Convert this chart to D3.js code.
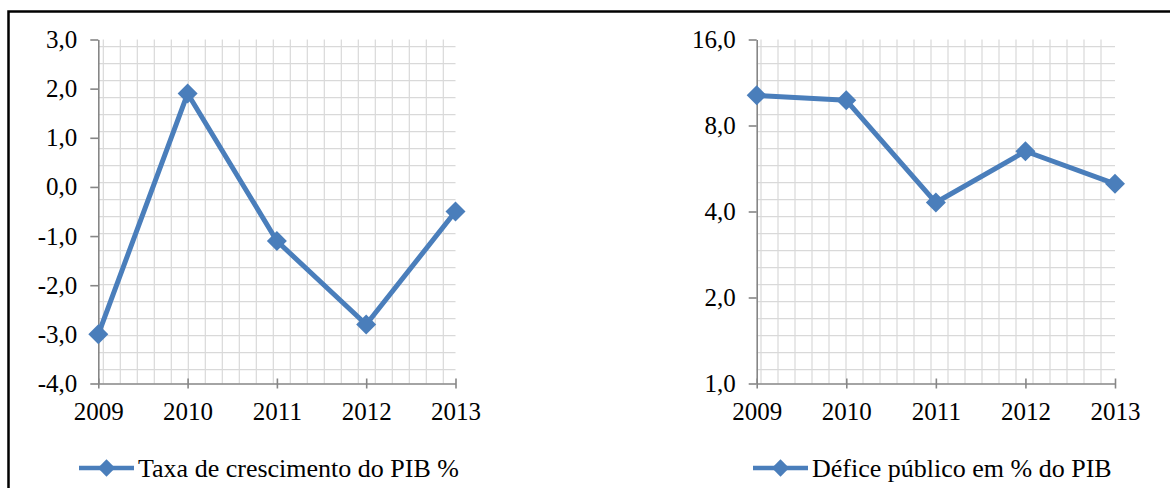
<!DOCTYPE html>
<html><head><meta charset="utf-8">
<script src="https://cdn.jsdelivr.net/npm/d3@7"></script>
<style>
body{margin:0;background:#fff}
svg{display:block}
text{font-family:"Liberation Serif","Times New Roman",serif;fill:#000}
</style>
</head><body>
<svg id="chart" width="1170" height="488"></svg>
<script>
// Annual series, 2009-2013
const years = ["2009", "2010", "2011", "2012", "2013"];
const growth = [-3.0, 1.9, -1.1, -2.8, -0.5];      // Taxa de crescimento do PIB %
const deficit = [10.2, 9.8, 4.3, 6.5, 5.0];        // Défice público em % do PIB
const growthTicks = [-4, -3, -2, -1, 0, 1, 2, 3];
const deficitTicks = [1, 2, 4, 8, 16];
const growthLabel = "Taxa de crescimento do PIB %";
const deficitLabel = "Défice público em % do PIB";

const BLUE = "#4a7ebb";
const AXIS = "#868686";
const GRID = "#d9d9d9";

const pt = d3.formatLocale({decimal: ",", thousands: ".", grouping: [3], currency: ["", " €"], minus: "-"});
const fmt = pt.format(".1f");

const svg = d3.select("#chart");

// outer frame (left and top edges)
svg.append("path")
  .attr("d", "M8.5,488V11.5H1170")
  .attr("fill", "none").attr("stroke", "#000").attr("stroke-width", 2.5);

const plotTop = 39.5, plotBottom = 383.5;

function panel(opts) {
  const g = svg.append("g");
  const x = d3.scalePoint().domain(years).range([opts.x0, opts.x1]);
  const y = opts.y;

  // square graph-paper background over the plot area
  const grid = g.append("g").attr("stroke", GRID).attr("stroke-width", 1.2);
  for (let gx = opts.x0 + opts.gridOffset; gx < opts.x1; gx += 17) {
    grid.append("line").attr("x1", gx).attr("x2", gx).attr("y1", plotTop).attr("y2", plotBottom);
  }
  for (let gy = plotTop + 7.2; gy < plotBottom; gy += 17) {
    grid.append("line").attr("x1", opts.x0).attr("x2", opts.x1).attr("y1", gy).attr("y2", gy);
  }

  // value axis
  const ya = g.append("g")
    .attr("transform", `translate(${opts.x0},0)`)
    .call(d3.axisLeft(y).tickValues(opts.ticks).tickFormat(fmt)
      .tickSizeInner(8).tickSizeOuter(0).tickPadding(13));
  ya.attr("font-family", null);
  ya.select(".domain").attr("stroke", AXIS).attr("stroke-width", 1.6);
  ya.selectAll(".tick line").attr("stroke", AXIS).attr("stroke-width", 1.6);
  ya.selectAll(".tick text").attr("font-size", 25).attr("fill", "#000")
    .attr("font-family", "Liberation Serif");

  // category axis
  const xa = g.append("g")
    .attr("transform", `translate(0,${plotBottom})`)
    .call(d3.axisBottom(x).tickSizeInner(5).tickSizeOuter(0).tickPadding(14));
  xa.attr("font-family", null);
  xa.select(".domain").attr("stroke", AXIS).attr("stroke-width", 1.6);
  xa.selectAll(".tick line").attr("y1", -5).attr("stroke", AXIS).attr("stroke-width", 1.6);
  xa.selectAll(".tick text").attr("font-size", 25).attr("fill", "#000")
    .attr("font-family", "Liberation Serif");

  // series line
  const line = d3.line().x((d, i) => x(years[i])).y(d => y(d));
  g.append("path").datum(opts.values)
    .attr("d", line).attr("fill", "none")
    .attr("stroke", BLUE).attr("stroke-width", 5).attr("stroke-linejoin", "round");

  // diamond markers
  const diamond = d3.symbol(d3.symbolSquare, 200);
  g.selectAll(".mk").data(opts.values).join("path")
    .attr("d", diamond)
    .attr("transform", (d, i) => `translate(${x(years[i])},${y(d)}) rotate(45)`)
    .attr("fill", BLUE);

  // legend
  const ly = 468;
  g.append("line").attr("x1", opts.legendX).attr("x2", opts.legendX + 55)
    .attr("y1", ly).attr("y2", ly).attr("stroke", BLUE).attr("stroke-width", 4.5);
  g.append("path").attr("d", d3.symbol(d3.symbolSquare, 150))
    .attr("transform", `translate(${opts.legendX + 27.5},${ly}) rotate(45)`)
    .attr("fill", BLUE);
  g.append("text").attr("x", opts.legendX + 59).attr("y", 477)
    .attr("font-size", 26).text(opts.label);
}

panel({
  x0: 98.3, x1: 455.5, gridOffset: 5,
  y: d3.scaleLinear().domain([-4, 3]).range([plotBottom, plotTop]),
  ticks: growthTicks, values: growth,
  legendX: 79, label: growthLabel
});

panel({
  x0: 756.7, x1: 1115, gridOffset: 4.3,
  y: d3.scaleLog().base(2).domain([1, 16]).range([plotBottom, plotTop]),
  ticks: deficitTicks, values: deficit,
  legendX: 753, label: deficitLabel
});
</script>
</body></html>
